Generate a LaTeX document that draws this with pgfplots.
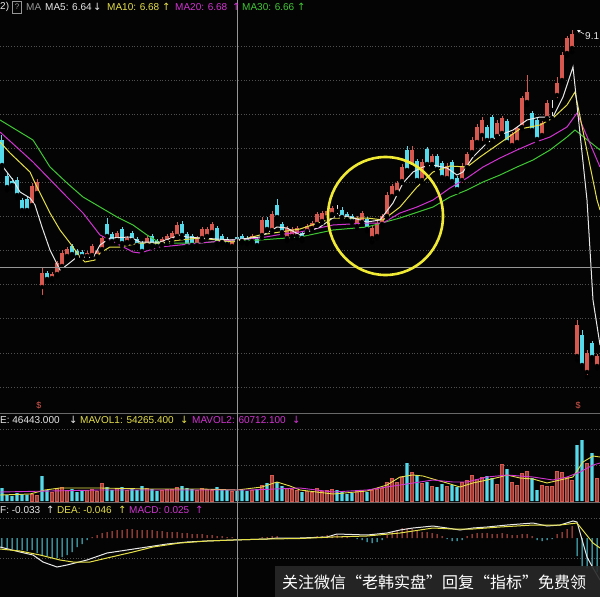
\documentclass[border=0pt]{standalone}
\usepackage{pgfplots}
\pgfplotsset{compat=1.18}
\usepackage{pgfplotstable}
\usepackage{fontspec}
\setmainfont{Liberation Sans}
\newfontfamily\cjk{Noto Sans CJK SC}
\newfontfamily\sym{DejaVu Sans}

\definecolor{bg}{RGB}{4,4,4}
\definecolor{upred}{RGB}{215,88,78}
\definecolor{dncyan}{RGB}{84,218,235}
\definecolor{ma5c}{RGB}{232,232,232}
\definecolor{ma10c}{RGB}{230,224,72}
\definecolor{ma20c}{RGB}{210,52,210}
\definecolor{ma30c}{RGB}{64,200,52}
\definecolor{gridc}{RGB}{80,80,80}
\definecolor{crossc}{RGB}{150,150,150}
\definecolor{ringc}{RGB}{240,234,52}
\definecolor{wmbg}{RGB}{40,40,40}

% price candles: i open high low close
\pgfplotstableread{
i o h l c
6 7.35 7.57 7.32 7.54
7 7.47 7.61 7.44 7.58
8 6.53 6.72 6.43 6.67
10 6.62 6.68 6.60 6.66
11 6.66 6.79 6.64 6.77
12 6.74 6.90 6.72 6.87
13 6.84 6.93 6.82 6.91
17 6.84 6.89 6.82 6.87
18 6.85 6.96 6.82 6.94
19 6.84 6.91 6.82 6.89
20 6.91 7.04 6.89 7.02
23 7.00 7.09 6.97 7.07
25 6.98 7.04 6.96 7.02
29 6.95 7.04 6.92 7.02
32 6.96 7.03 6.94 7.01
33 6.98 7.06 6.96 7.04
34 7.00 7.09 6.97 7.07
35 7.04 7.18 7.02 7.15
39 6.95 7.04 6.92 7.02
40 7.02 7.13 6.99 7.11
41 7.04 7.13 7.02 7.11
42 7.08 7.18 7.06 7.16
46 6.94 7.01 6.92 6.99
50 6.99 7.06 6.97 7.04
52 7.05 7.23 7.02 7.20
54 7.10 7.29 7.07 7.26
57 7.02 7.14 6.99 7.12
58 7.04 7.13 7.02 7.11
59 7.04 7.14 7.02 7.12
61 7.09 7.16 7.07 7.14
62 7.12 7.19 7.10 7.17
63 7.16 7.28 7.14 7.26
64 7.19 7.29 7.17 7.27
65 7.23 7.31 7.21 7.29
66 7.26 7.34 7.24 7.32
71 7.14 7.24 7.12 7.22
72 7.18 7.29 7.16 7.27
74 7.02 7.14 6.98 7.12
75 7.04 7.19 7.02 7.17
76 7.16 7.26 7.14 7.24
77 7.24 7.48 7.22 7.45
78 7.44 7.56 7.42 7.54
79 7.48 7.59 7.46 7.57
80 7.59 7.76 7.57 7.73
82 7.75 7.94 7.72 7.90
84 7.60 7.81 7.57 7.78
86 7.76 7.86 7.74 7.84
89 7.62 7.77 7.59 7.74
92 7.60 7.77 7.55 7.74
93 7.73 7.88 7.70 7.86
94 7.88 8.03 7.85 8.00
95 7.98 8.16 7.95 8.13
96 8.05 8.23 7.97 8.20
99 8.04 8.20 8.02 8.17
100 8.07 8.24 8.05 8.22
102 7.95 8.08 7.93 8.06
103 7.98 8.14 7.95 8.12
104 8.13 8.44 8.11 8.42
105 8.38 8.65 8.35 8.48
108 8.05 8.19 8.03 8.17
109 8.22 8.40 8.20 8.37
111 8.45 8.63 8.40 8.57
112 8.60 8.88 8.57 8.85
113 8.87 9.04 8.84 9.02
114 8.92 9.10 8.88 9.06
115 5.84 6.20 5.80 6.15
117 5.68 5.90 5.63 5.87
119 5.74 5.86 5.72 5.84
}\upcandles

\pgfplotstableread{
i o h l c
0 8.00 8.05 7.72 7.75
1 7.64 7.67 7.50 7.53
2 7.59 7.62 7.51 7.55
3 7.60 7.63 7.42 7.45
4 7.40 7.42 7.28 7.30
5 7.41 7.44 7.27 7.30
9 6.67 6.69 6.59 6.61
14 6.94 6.96 6.84 6.86
15 6.89 6.91 6.81 6.83
16 6.88 6.90 6.82 6.84
21 7.16 7.22 7.00 7.04
22 7.06 7.08 6.97 6.99
24 7.11 7.13 6.94 6.97
26 7.07 7.09 6.97 7.00
27 7.01 7.03 6.92 6.95
28 6.97 6.99 6.86 6.89
30 7.04 7.06 6.92 6.95
31 6.99 7.01 6.92 6.94
36 7.16 7.19 7.02 7.05
37 7.06 7.08 6.91 6.94
38 7.04 7.06 6.92 6.95
43 7.12 7.14 6.94 6.97
44 7.04 7.06 6.96 6.98
45 7.01 7.03 6.94 6.96
47 7.03 7.05 6.97 6.99
48 7.04 7.06 6.97 6.99
49 7.02 7.04 6.96 6.98
51 7.01 7.03 6.92 6.95
53 7.20 7.23 7.09 7.11
55 7.35 7.41 7.21 7.23
56 7.16 7.18 7.06 7.08
60 7.07 7.09 6.99 7.02
68 7.30 7.33 7.21 7.23
69 7.26 7.28 7.19 7.21
70 7.24 7.26 7.17 7.19
73 7.21 7.23 7.09 7.11
81 7.90 7.94 7.66 7.70
83 7.79 7.81 7.57 7.60
85 7.91 7.93 7.74 7.76
87 7.84 7.86 7.69 7.71
88 7.77 7.79 7.60 7.63
90 7.78 7.80 7.57 7.59
91 7.62 7.64 7.48 7.51
97 8.13 8.15 7.97 8.00
98 8.23 8.25 7.97 8.00
101 8.19 8.21 7.95 7.98
106 8.27 8.29 8.08 8.10
107 8.20 8.22 7.98 8.01
116 6.05 6.10 5.72 5.75
118 5.97 5.99 5.80 5.83
}\dncandles

\pgfplotstableread{
i o h l c
67 7.30 7.35 7.24 7.29
110 8.31 8.40 8.22 8.30
}\dojicandles

% volume
\pgfplotstableread{
i v
6 35000
7 30000
10 45000
11 65000
12 70000
13 55000
17 55000
18 60000
19 50000
20 90000
23 65000
25 55000
29 65000
32 55000
33 60000
34 60000
35 70000
39 55000
40 65000
41 60000
42 55000
46 50000
50 55000
52 80000
54 130000
57 65000
58 60000
59 55000
61 50000
62 45000
63 65000
64 50000
65 55000
66 60000
71 50000
72 55000
74 55000
75 60000
76 65000
77 95000
78 115000
79 95000
80 120000
82 145000
84 90000
86 75000
89 75000
92 95000
93 105000
94 130000
95 110000
96 120000
99 85000
100 185000
102 95000
103 80000
104 140000
105 150000
108 80000
109 75000
110 75000
111 150000
112 145000
113 120000
114 105000
117 190000
119 115000
}\volup

\pgfplotstableread{
i v
0 65000
1 30000
2 25000
3 40000
4 35000
5 30000
8 125000
9 55000
14 60000
15 45000
16 50000
21 70000
22 55000
24 70000
26 60000
27 55000
28 75000
30 60000
31 50000
36 75000
37 65000
38 60000
43 70000
44 60000
45 55000
47 50000
48 55000
49 50000
51 60000
53 90000
55 95000
56 75000
60 45000
67 55000
68 50000
69 35000
70 40000
73 45000
81 190000
83 130000
85 95000
87 70000
88 85000
90 80000
91 70000
97 125000
98 115000
101 160000
106 115000
107 55000
115 280000
116 305000
118 240000
}\voldn

% MACD histogram
\pgfplotstableread{
i m
18 0.01
19 0.03
20 0.05
21 0.06
22 0.07
23 0.08
24 0.08
25 0.09
26 0.09
27 0.08
28 0.08
29 0.08
30 0.08
31 0.07
32 0.07
33 0.06
34 0.06
35 0.06
36 0.05
37 0.05
38 0.04
39 0.04
40 0.04
41 0.03
42 0.03
43 0.02
44 0.02
45 0.01
46 0.01
52 0.01
53 0.01
54 0.02
55 0.02
61 0.01
62 0.01
63 0.02
64 0.02
65 0.03
66 0.03
67 0.03
68 0.02
69 0.01
77 0.03
78 0.06
79 0.08
80 0.10
81 0.10
82 0.09
83 0.07
84 0.06
85 0.06
86 0.05
87 0.04
88 0.02
93 0.02
94 0.04
95 0.05
96 0.05
97 0.05
98 0.04
99 0.04
100 0.05
101 0.04
102 0.03
103 0.03
104 0.04
105 0.04
106 0.02
111 0.04
112 0.06
113 0.09
114 0.12
}\macdup

\pgfplotstableread{
i m
0 -0.10
1 -0.10
2 -0.11
3 -0.12
4 -0.12
5 -0.13
6 -0.12
7 -0.15
8 -0.17
9 -0.18
10 -0.20
11 -0.20
12 -0.19
13 -0.17
14 -0.14
15 -0.09
16 -0.06
17 -0.02
57 -0.01
71 -0.01
72 -0.02
73 -0.04
74 -0.05
75 -0.04
76 -0.02
89 -0.01
90 -0.03
91 -0.03
92 -0.02
107 -0.02
108 -0.03
109 -0.02
110 -0.01
115 -0.18
116 -0.28
117 -0.30
118 -0.30
119 -0.34
}\macddn

\pgfplotsset{
  panel/.style={scale only axis, width=600pt, xmin=-0.4, xmax=119.6,
    axis line style={draw=none}, tick style={draw=none},
    xtick=\empty, ytick=\empty},
  wick/.style={only marks, mark=none, error bars/.cd, y dir=plus, y explicit,
    error mark=none, error bar style={draw=#1, line width=1pt, solid}},
  body/.style={only marks, mark=none, error bars/.cd, y dir=plus, y explicit,
    error mark=none, error bar style={draw=#1, line width=3.2pt, solid}},
}
\newcommand\candles[2]{%
  \addplot[wick=#2] table[x=i, y=l, y error plus expr={\thisrow{h}-\thisrow{l}}] {#1};
  \addplot[body=#2] table[x=i, y expr={min(\thisrow{o},\thisrow{c})},
    y error plus expr={max(abs(\thisrow{c}-\thisrow{o}),0.012)}] {#1};
}
\newcommand\txt[4]{\node[anchor=west, inner sep=0pt, text=#3, font=\fontsize{10}{12}\selectfont] at (#1pt,-#2pt) {#4};}

\begin{document}
\begin{tikzpicture}
\path[use as bounding box] (0,0) rectangle (600pt,-597pt);
\clip (0,0) rectangle (600pt,-597pt);
\fill[bg] (0,0) rectangle (600pt,-597pt);

% dotted guide lines of the three panels
\foreach \gy in {46,80.1,114.2,148.3,182.4,216.5,250.6,284.7,318.8,352.9,387,429,465,518,558}
  \draw[gridc, dotted, line width=0.8pt] (0,-\gy pt) -- (600pt,-\gy pt);

% price panel
\begin{axis}[panel, at={(0pt,0pt)}, anchor=north west, height=413pt,
  ymin=5.27, ymax=9.40]
  \candles{\upcandles}{upred}
  \candles{\dncandles}{dncyan}
  \candles{\dojicandles}{ma5c}
  \addplot[ma30c, line width=1pt] coordinates {(-0.4,8.20) (6.2,8.00) (9.6,7.73) (13.0,7.57) (16.2,7.43) (19.6,7.33) (23.0,7.23) (26.2,7.15) (29.0,7.05) (31.6,6.97) (35.6,6.97) (39.6,6.97) (46.2,7.00) (51.6,7.00) (59.6,7.03) (66.2,7.10) (73.0,7.13) (79.6,7.22) (86.2,7.33) (89.6,7.43) (93.0,7.50) (96.2,7.58) (99.6,7.65) (103.0,7.73) (106.2,7.80) (109.6,7.90) (113.0,8.03) (114.6,8.10) (119.6,7.90)};
  \addplot[ma20c, line width=1pt] coordinates {(-0.4,8.08) (6.2,7.78) (13.0,7.43) (16.2,7.27) (19.6,7.05) (21.6,7.00) (26.2,6.88) (27.6,6.87) (31.6,6.93) (35.6,6.95) (39.6,6.97) (46.2,7.00) (51.6,7.02) (55.0,7.05) (59.6,7.08) (66.2,7.15) (73.0,7.17) (76.2,7.17) (79.6,7.27) (83.0,7.33) (86.2,7.40) (89.6,7.52) (93.0,7.62) (96.2,7.73) (99.6,7.82) (103.0,7.90) (106.2,7.97) (109.6,8.03) (113.0,8.13) (115.0,8.27) (119.6,7.73)};
  \addplot[ma10c, line width=1pt] coordinates {(-0.4,7.98) (1.6,7.87) (5.6,7.68) (6.6,7.57) (9.6,7.27) (11.6,7.10) (13.6,6.97) (15.6,6.83) (16.6,6.78) (18.6,6.80) (19.6,6.87) (21.6,6.93) (23.6,6.93) (27.6,6.97) (31.6,6.97) (35.6,7.00) (39.6,7.02) (46.2,6.98) (51.6,7.05) (55.6,7.08) (59.6,7.11) (66.2,7.22) (73.0,7.22) (76.2,7.20) (79.6,7.33) (83.0,7.53) (86.2,7.68) (89.6,7.74) (93.0,7.73) (95.6,7.83) (99.6,7.97) (103.6,8.11) (107.6,8.15) (110.2,8.22) (113.0,8.35) (114.6,8.48) (119.0,7.40) (119.6,7.30)};
  \addplot[ma5c, line width=1pt] coordinates {(-0.4,7.77) (2.2,7.60) (3.6,7.48) (5.6,7.42) (6.6,7.35) (8.0,7.13) (9.6,6.90) (11.6,6.70) (13.0,6.75) (15.0,6.83) (17.0,6.83) (18.2,6.82) (19.6,6.95) (21.6,7.02) (25.6,7.03) (27.6,6.98) (31.6,6.98) (35.6,7.05) (37.0,7.03) (39.6,7.02) (46.2,7.00) (51.6,7.03) (55.0,7.13) (57.0,7.12) (59.6,7.05) (63.6,7.13) (67.0,7.25) (69.6,7.23) (73.0,7.18) (75.6,7.20) (78.2,7.37) (80.2,7.57) (82.2,7.68) (84.2,7.73) (86.2,7.75) (89.0,7.72) (91.0,7.65) (92.2,7.68) (94.2,7.83) (97.0,7.97) (99.6,8.05) (102.2,8.10) (105.0,8.20) (107.6,8.23) (110.2,8.23) (112.2,8.43) (114.2,8.73) (117.0,7.40) (118.2,6.40) (119.6,5.95)};
\end{axis}

% volume panel
\begin{axis}[panel, at={(0pt,-413pt)}, anchor=north west, height=88pt,
  ymin=0, ymax=440000]
  \addplot[ybar, bar width=3.2pt, bar shift=0pt, fill=upred!70!black, draw=upred] table[x=i, y=v] {\volup};
  \addplot[ybar, bar width=3.2pt, bar shift=0pt, fill=dncyan, draw=none] table[x=i, y=v] {\voldn};
  \addplot[ma10c, line width=0.9pt] coordinates {(-0.4,30000) (5.6,35000) (8.6,55000) (11.6,65000) (19.6,65000) (29.6,60000) (39.6,60000) (47,55000) (52,70000) (55,95000) (57.6,75000) (59.6,55000) (66.2,35000) (73,50000) (77,80000) (79.6,120000) (82.2,130000) (84.2,125000) (86.2,110000) (89,90000) (91.6,70000) (94.2,90000) (97,105000) (99.6,120000) (101,130000) (103.6,115000) (106.2,110000) (109,90000) (111.6,105000) (114.2,120000) (116.2,195000) (118.2,225000) (119.6,220000)};
  \addplot[ma20c, line width=0.9pt] coordinates {(-0.4,45000) (9.6,50000) (19.6,55000) (29.6,55000) (39.6,55000) (49.6,55000) (59.6,65000) (66.2,45000) (73,55000) (79.6,80000) (86.2,105000) (90.2,95000) (93,95000) (97,120000) (101,130000) (106.2,120000) (110.2,105000) (113,120000) (115.6,145000) (118.2,180000) (119.6,190000)};
\end{axis}

% MACD panel
\begin{axis}[panel, at={(0pt,-502pt)}, anchor=north west, height=95pt,
  ymin=-0.59, ymax=0.36]
  \addplot[ybar, bar width=1pt, bar shift=0pt, fill=upred, draw=none] table[x=i, y=m] {\macdup};
  \addplot[ybar, bar width=1pt, bar shift=0pt, fill=dncyan, draw=none] table[x=i, y=m] {\macddn};
  \addplot[ma5c, line width=1pt] coordinates {(-0.4,-0.09) (3.6,-0.14) (6.2,-0.17) (8.2,-0.24) (11,-0.29) (13,-0.27) (17,-0.22) (21,-0.15) (25,-0.12) (29,-0.09) (33,-0.06) (37,-0.04) (41,-0.03) (46.2,-0.02) (53,-0.01) (55,0.00) (59.6,0.00) (65,0.01) (67,0.04) (73,0.03) (77,0.05) (79.6,0.08) (82.2,0.10) (86.2,0.12) (89,0.10) (91.6,0.08) (94.2,0.10) (97,0.11) (101,0.13) (103.6,0.14) (106.2,0.15) (109,0.12) (111.6,0.13) (114.2,0.17) (115,0.16) (117,-0.19) (118.2,-0.30) (119.6,-0.42)};
  \addplot[ma10c, line width=1pt] coordinates {(-0.4,-0.11) (3.6,-0.13) (7.6,-0.17) (11.6,-0.22) (14.2,-0.24) (17.6,-0.24) (21,-0.20) (26.2,-0.14) (30.2,-0.09) (35.6,-0.05) (41,-0.03) (46.2,-0.02) (53,-0.01) (59.6,-0.005) (66.2,0.01) (73,0.02) (79.6,0.05) (86.2,0.10) (90.2,0.09) (94.2,0.09) (99.6,0.11) (106.2,0.13) (111.6,0.13) (115,0.15) (118.2,-0.05) (119.6,-0.10)};
\end{axis}

% separators and crosshair
\draw[crossc!70!black, line width=1pt] (0,-413pt) -- (600pt,-413pt);
\draw[crossc!70!black, line width=1pt] (0,-502pt) -- (600pt,-502pt);
\draw[crossc, line width=1pt] (0,-267pt) -- (600pt,-267pt);
\draw[crossc, line width=1pt] (237pt,0) -- (237pt,-597pt);

% highlight ring
\draw[ringc, line width=2.6pt] (385.5pt,-216pt) ellipse (57.5pt and 59pt);

% high marker
\draw[ma5c, line width=0.6pt, -stealth] (584pt,-34pt) -- (577pt,-30pt);
\txt{585}{36}{ma5c}{9.1}
\node[text=upred, font=\fontsize{9}{10}\selectfont] at (39pt,-405pt) {\$};
\node[text=upred, font=\fontsize{9}{10}\selectfont] at (578pt,-405pt) {\$};

% header of price panel
\txt{0}{7}{ma5c}{2)}
\draw[crossc, line width=0.6pt] (12.5pt,-1pt) rectangle (21.5pt,-13pt);
\node[text=crossc, font=\fontsize{8}{9}\selectfont, inner sep=0pt] at (17pt,-7pt) {?};
\txt{26}{7}{crossc}{MA}
\txt{45}{7}{ma5c}{MA5: 6.64}
\txt{93}{7}{ma5c}{\sym ↓}
\txt{107}{7}{ma10c}{MA10: 6.68}
\txt{162}{7}{ma10c}{\sym ↑}
\txt{175}{7}{ma20c}{MA20: 6.68}
\txt{232}{7}{ma20c}{\sym ↑}
\txt{242}{7}{ma30c}{MA30: 6.66}
\txt{297}{7}{ma30c}{\sym ↑}

% header of volume panel
\txt{0}{420}{ma5c}{E: 46443.000}
\txt{69}{420}{ma5c}{\sym ↓}
\txt{80}{420}{ma10c}{MAVOL1: 54265.400}
\txt{180}{420}{ma10c}{\sym ↓}
\txt{192}{420}{ma20c}{MAVOL2: 60712.100}
\txt{292}{420}{ma20c}{\sym ↓}

% header of MACD panel
\txt{0}{510}{ma5c}{F: -0.033}
\txt{46}{510}{ma5c}{\sym ↑}
\txt{57}{510}{ma10c}{DEA: -0.046}
\txt{118}{510}{ma10c}{\sym ↑}
\txt{129}{510}{ma20c}{MACD: 0.025}
\txt{195}{510}{ma20c}{\sym ↑}

% watermark
\fill[wmbg, opacity=0.9] (275pt,-566pt) rectangle (600pt,-597pt);
\node[anchor=west, inner sep=0pt, text=white, font=\cjk\fontsize{16}{18}\selectfont] at (282pt,-582pt) {关注微信“老韩实盘”回复“指标”免费领};
\end{tikzpicture}
\end{document}
